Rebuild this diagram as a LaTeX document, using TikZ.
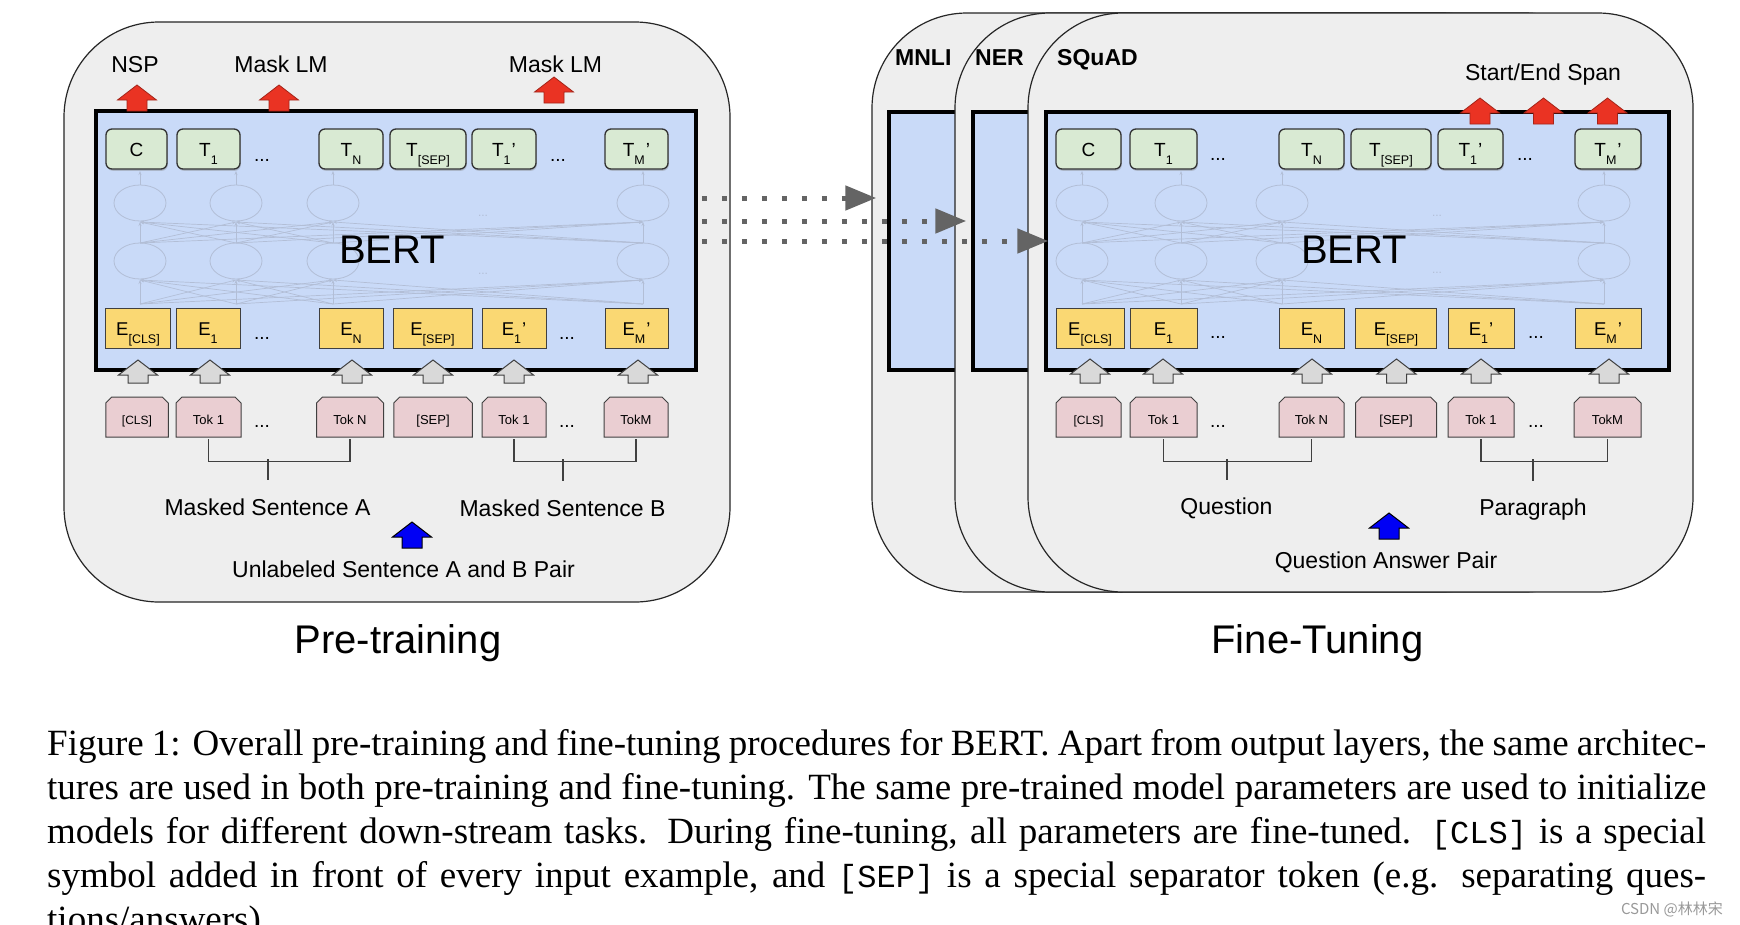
\documentclass[tikz,border=0pt]{standalone}
\usepackage{fontspec}
\setmainfont{Liberation Sans}
\newfontfamily\capfont{Liberation Serif}
\newfontfamily\capmono{Liberation Mono}
\newfontfamily\cjkfont{Noto Sans CJK SC}
\usetikzlibrary{calc,arrows.meta,shadows}
\definecolor{outerc}{RGB}{238,238,238}
\definecolor{bluec}{RGB}{201,218,248}
\definecolor{greenc}{RGB}{217,234,211}
\definecolor{yellowc}{RGB}{250,216,115}
\definecolor{pinkc}{RGB}{234,206,210}
\definecolor{redc}{RGB}{234,51,35}
\definecolor{arrblue}{RGB}{0,0,245}
\definecolor{grayarrc}{RGB}{217,217,217}
\definecolor{netc}{RGB}{178,190,214}
\definecolor{dotc}{RGB}{100,100,100}
\newcommand\fs[1]{\fontsize{#1}{#1}\selectfont}
\newcommand\sbs[3]{#1\raisebox{-8.5pt}{\fs{12.5}#2}#3}
\newcommand\blk[4]{\path[#1] ({#2-10},#4) -- ({#2-10},{#3+15}) -- ({#2-19.5},{#3+15}) -- (#2,#3) -- ({#2+19.5},{#3+15}) -- ({#2+10},{#3+15}) -- ({#2+10},#4) -- cycle;}
\newcommand\tok[4]{\path[tokshape] ({#2-#3/2},437) -- ({#2-#3/2},403) -- ({#2-#3/2+6},397) -- ({#2+#3/2-6},397) -- ({#2+#3/2},403) -- ({#2+#3/2},437) -- cycle;
 \node[toktext, minimum width=#3pt] (#1) at (#2,417) {#4};}
\newcommand\netw[4]{%
 \foreach \pa in {#1,#2,#3,#4}{%
   \foreach \pb in {#1,#2,#3,#4}{%
     \draw[netline] (\pa,304) -- (\pb,280);
     \draw[netline] (\pa,243) -- (\pb,222);
   }
   \draw[netline] (\pa,185) -- (\pa,171);
   \draw[netell] (\pa,261) ellipse [x radius=26pt, y radius=18pt];
   \draw[netell] (\pa,203) ellipse [x radius=26pt, y radius=18pt];
 }}
\newcommand\capl[1]{\hbox to 1659pt{#1}}
\begin{document}
\begin{tikzpicture}[x=1pt,y=-1pt,
  outerbox/.style={draw=black!85, line width=1.2pt, fill=outerc, rounded corners=95pt, inner sep=0pt},
  bertbox/.style={draw=black, line width=3.5pt, fill=bluec, inner sep=0pt},
  tbox/.style={draw=black!80, line width=1.3pt, fill=greenc, rounded corners=6pt, minimum height=40pt, inner sep=0pt, text height=14pt, text depth=0pt, font=\fs{19}, drop shadow={shadow xshift=0.8pt, shadow yshift=-1.8pt, opacity=0.4}},
  ebox/.style={draw=black!75, line width=1pt, fill=yellowc, minimum height=40pt, inner sep=0pt, text height=14pt, text depth=0pt, font=\fs{18.5}},
  tokshape/.style={draw=black!75, line width=1pt, fill=pinkc},
  toktext/.style={minimum height=40pt, inner sep=0pt, text height=10pt, text depth=0pt, yshift=-2pt, font=\fs{13}},
  dots/.style={font=\fs{19}, inner sep=0pt, anchor=base},
  lbl/.style={font=\fs{23}, inner sep=0pt, anchor=base},
  tasklbl/.style={font=\fs{23}\bfseries, inner sep=0pt, anchor=base west},
  bigl/.style={font=\fs{40}, inner sep=0pt, anchor=base},
  netline/.style={draw=netc, line width=0.7pt, -{Stealth[length=4pt,width=3pt]}},
  netell/.style={draw=netc, line width=0.8pt},
  faint/.style={font=\fs{12}, text=netc, inner sep=0pt},
  redarr/.style={draw=redc!70!black, line width=0.8pt, fill=redc},
  grayarr/.style={draw=black!75, line width=1pt, fill=grayarrc},
  bluearr/.style={draw=black, line width=1pt, fill=arrblue},
  brk/.style={draw=black!75, line width=1.3pt},
  dotarr/.style={draw=dotc, line width=5pt, dash pattern=on 5pt off 15pt, -{Triangle[length=31pt,width=24pt]}}
]
\clip (0,0) rectangle (1740,924);
\fill[white] (0,0) rectangle (1740,924);

% ================= Pre-training =================
\node[outerbox, minimum width=666pt, minimum height=580pt] (preO) at (397,312) {};
\node[bertbox, minimum width=600pt, minimum height=259pt] (bertL) at (396,240.5) {};
\netw{140}{236}{333}{643}
\node[faint] (lfd1) at (483,216) {...};
\node[faint] (lfd2) at (483,274) {...};
\node[bigl] (bertLtxt) at (392,263) {BERT};
\blk{redarr}{137}{85}{111}
\blk{redarr}{279}{85}{111}
\blk{redarr}{554}{77}{103}
\node[lbl] (nsp) at (135,72) {NSP};
\node[lbl] (mlm1) at (281,72) {Mask LM};
\node[lbl] (mlm2) at (555.5,72) {Mask LM};
% outputs
\node[tbox, minimum width=61pt] (lC) at (136.5,149) {C};
\node[tbox, minimum width=63pt] (lT1) at (208.5,149) {\sbs{T}{1}{}};
\node[dots] (ltd1) at (262,161.7) {...};
\node[tbox, minimum width=64pt] (lTN) at (351,149) {\sbs{T}{N}{}};
\node[tbox, minimum width=76pt] (lTS) at (428,149) {\sbs{T}{[SEP]}{}};
\node[tbox, minimum width=64pt] (lT1p) at (504,149) {\sbs{T}{1}{\kern1pt’}};
\node[dots] (ltd2) at (558,161.7) {...};
\node[tbox, minimum width=63pt] (lTMp) at (636.5,149) {\sbs{T}{M}{\kern1pt’}};
% embeddings
\node[ebox, minimum width=65pt] (lEC) at (138,328) {\sbs{E}{[CLS]}{}};
\node[ebox, minimum width=64pt] (lE1) at (208,328) {\sbs{E}{1}{}};
\node[dots] (led1) at (262,339) {...};
\node[ebox, minimum width=64pt] (lEN) at (351,328) {\sbs{E}{N}{}};
\node[ebox, minimum width=79pt] (lES) at (432.5,328) {\sbs{E}{[SEP]}{}};
\node[ebox, minimum width=64pt] (lE1p) at (514,328) {\sbs{E}{1}{\kern1pt’}};
\node[dots] (led2) at (567,339) {...};
\node[ebox, minimum width=63pt] (lEMp) at (636.5,328) {\sbs{E}{M}{\kern1pt’}};
% gray arrows
\blk{grayarr}{138}{360}{383}
\blk{grayarr}{210}{360}{383}
\blk{grayarr}{352}{360}{383}
\blk{grayarr}{433}{360}{383}
\blk{grayarr}{514}{360}{383}
\blk{grayarr}{638}{360}{383}
% tokens
\tok{ltC}{137}{62.5}{\fs{12}[CLS]}
\tok{ltT1}{208.5}{65}{Tok 1}
\node[dots] (lkd1) at (262,427.7) {...};
\tok{ltTN}{350}{67}{Tok N}
\tok{ltS}{433}{78.5}{[SEP]}
\tok{ltT1b}{514}{64}{Tok 1}
\node[dots] (lkd2) at (567,427.7) {...};
\tok{ltTM}{636}{64}{TokM}
% brackets
\draw[brk] (ltT1.south) -- ++(0,22) -| (ltTN.south);
\coordinate (lAt) at (268,459); \coordinate (lAb) at (268,480);
\draw[brk] (lAt) -- (lAb);
\draw[brk] (ltT1b.south) -- ++(0,22) -| (ltTM.south);
\coordinate (lBt) at (563,459); \coordinate (lBb) at (563,481);
\draw[brk] (lBt) -- (lBb);
\node[lbl] (msa) at (267.5,515) {Masked Sentence A};
\node[lbl] (msb) at (562.5,516) {Masked Sentence B};
\blk{bluearr}{412}{522}{548}
\node[lbl] (unl) at (403.5,577) {Unlabeled Sentence A and B Pair};
\node[bigl] (pretr) at (398,653) {Pre-training};

% ================= Fine-tuning =================
\node[outerbox, minimum width=665pt, minimum height=579pt] (mnliO) at (1204.5,302.5) {};
\node[bertbox, minimum width=623pt, minimum height=258pt] (mnliB) at (1200.5,241) {};
\node[tasklbl] (mnliT) at (895,65) {MNLI};
\node[outerbox, minimum width=665pt, minimum height=579pt] (nerO) at (1287.5,302.5) {};
\node[bertbox, minimum width=623pt, minimum height=258pt] (nerB) at (1284.5,241) {};
\node[tasklbl] (nerT) at (975,65) {NER};
\node[outerbox, minimum width=665pt, minimum height=579pt] (sqO) at (1360.5,302.5) {};
\node[bertbox, minimum width=623pt, minimum height=258pt] (sqB) at (1357.5,241) {};
\node[tasklbl] (sqT) at (1057,65) {SQuAD};
\netw{1082}{1181}{1282}{1604}
\node[faint] (rfd1) at (1437,216) {...};
\node[faint] (rfd2) at (1437,273) {...};
\node[bigl] (bertRtxt) at (1354,263) {BERT};
\node[lbl] (span) at (1543,80) {Start/End Span};
% outputs
\node[tbox, minimum width=65pt] (rC) at (1088.5,149) {C};
\node[tbox, minimum width=67pt] (rT1) at (1163.5,149) {\sbs{T}{1}{}};
\node[dots] (rtd1) at (1218,160.7) {...};
\node[tbox, minimum width=65pt] (rTN) at (1311.5,149) {\sbs{T}{N}{}};
\node[tbox, minimum width=80pt] (rTS) at (1391,149) {\sbs{T}{[SEP]}{}};
\node[tbox, minimum width=65pt] (rT1p) at (1470.5,149) {\sbs{T}{1}{\kern1pt’}};
\node[dots] (rtd2) at (1525,160.7) {...};
\node[tbox, minimum width=66pt] (rTMp) at (1608,149) {\sbs{T}{M}{\kern1pt’}};
\blk{redarr}{1480}{98}{124}
\blk{redarr}{1543.5}{98}{124}
\blk{redarr}{1607.5}{98}{124}
% embeddings
\node[ebox, minimum width=68pt] (rEC) at (1090,328) {\sbs{E}{[CLS]}{}};
\node[ebox, minimum width=67pt] (rE1) at (1163.5,328) {\sbs{E}{1}{}};
\node[dots] (red1) at (1218,338) {...};
\node[ebox, minimum width=65pt] (rEN) at (1311.5,328) {\sbs{E}{N}{}};
\node[ebox, minimum width=81pt] (rES) at (1396,328) {\sbs{E}{[SEP]}{}};
\node[ebox, minimum width=66pt] (rE1p) at (1481,328) {\sbs{E}{1}{\kern1pt’}};
\node[dots] (red2) at (1536,338) {...};
\node[ebox, minimum width=66pt] (rEMp) at (1608,328) {\sbs{E}{M}{\kern1pt’}};
% gray arrows
\blk{grayarr}{1090}{359}{383}
\blk{grayarr}{1163}{359}{383}
\blk{grayarr}{1312}{359}{383}
\blk{grayarr}{1396.5}{359}{383}
\blk{grayarr}{1481}{359}{383}
\blk{grayarr}{1609}{359}{383}
% tokens
\tok{rtC}{1088.5}{65}{\fs{12}[CLS]}
\tok{rtT1}{1163.5}{67}{Tok 1}
\node[dots] (rkd1) at (1218,427.7) {...};
\tok{rtTN}{1311.5}{65}{Tok N}
\tok{rtS}{1396}{81}{[SEP]}
\tok{rtT1b}{1481}{66}{Tok 1}
\node[dots] (rkd2) at (1536,427.7) {...};
\tok{rtTM}{1607.5}{67}{TokM}
% brackets
\draw[brk] (rtT1.south) -- ++(0,22) -| (rtTN.south);
\coordinate (rQt) at (1227,459); \coordinate (rQb) at (1227,480);
\draw[brk] (rQt) -- (rQb);
\draw[brk] (rtT1b.south) -- ++(0,22) -| (rtTM.south);
\coordinate (rPt) at (1533,459); \coordinate (rPb) at (1533,481);
\draw[brk] (rPt) -- (rPb);
\node[lbl] (quest) at (1226.5,514) {Question};
\node[lbl] (para) at (1533,515) {Paragraph};
\blk{bluearr}{1389}{513}{539}
\node[lbl] (qap) at (1386,568) {Question Answer Pair};
\node[bigl] (fintr) at (1317.5,653) {Fine-Tuning};

% dotted transfer arrows
\draw[dotarr] ($(bertL.east)+(4,-42.5)$) -- ($(mnliB.west)+(-11,-43)$);
\draw[dotarr] ($(bertL.east)+(4,-19.5)$) -- ($(nerB.west)+(-5,-20)$);
\draw[dotarr] ($(bertL.east)+(4,0.5)$) -- ($(sqB.west)+(4,0)$);

% caption
\node[anchor=base west, inner sep=0pt, font=\capfont\fontsize{37}{44.2}\selectfont] (caption) at (47,755) {\vtop{%
\capl{Figure 1: Overall pre-training and fine-tuning procedures for BERT. Apart from output layers, the same architec-}
\capl{tures are used in both pre-training and fine-tuning. The same pre-trained model parameters are used to initialize}
\capl{models for different down-stream tasks.  During fine-tuning, all parameters are fine-tuned.  {\capmono\fs{32}[CLS]} is a special}
\capl{symbol added in front of every input example, and {\capmono\fs{32}[SEP]} is a special separator token (e.g.  separating ques-}
\hbox{tions/answers).}}};
\node[anchor=base east, inner sep=0pt, font=\cjkfont\fs{15}, text=black!40] (wm) at (1723,914) {CSDN @林林宋};
\end{tikzpicture}
\end{document}
